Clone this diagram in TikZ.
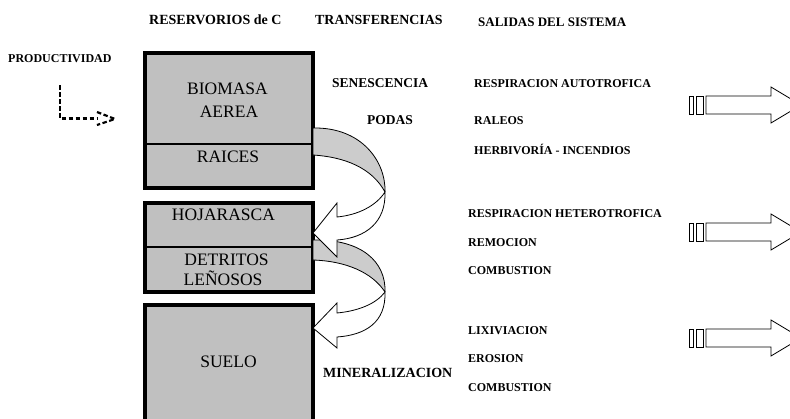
\documentclass[tikz,border=0pt]{standalone}
\usepackage{fontspec}
\setmainfont{Liberation Serif}
\definecolor{boxgray}{HTML}{C0C0C0}
\definecolor{ribgray}{HTML}{CCCCCC}
\begin{document}
\begin{tikzpicture}[x=1pt,y=-1pt,
  hdr/.style={font=\fontsize{13.5}{15}\selectfont\bfseries, inner sep=0pt, anchor=base west},
  outp/.style={font=\fontsize{12}{14}\selectfont\bfseries, inner sep=0pt, anchor=base west},
  boxlbl/.style={font=\fontsize{17.5}{19}\selectfont, inner sep=0pt, anchor=base},
  res/.style={draw=black, line width=3.8pt, fill=boxgray, inner sep=0pt},
  divider/.style={draw=black, line width=2pt},
  ribbon/.style={fill=ribgray, draw=black, line width=0.8pt, line join=round},
  curvearrow/.style={fill=white, draw=black, line width=0.8pt},
  outarrow/.style={draw=black, line width=0.8pt, fill=white},
  dashedarrow/.style={line width=2.2pt, dash pattern=on 4.5pt off 2.5pt}
]
\clip (0,0) rectangle (790,418);
\fill[white] (0,0) rectangle (790,418);

% headers
\node[hdr, font=\fontsize{14}{16}\selectfont\bfseries] (h1) at (149,24.5) {RESERVORIOS de C};
\node[hdr, font=\fontsize{13.9}{16}\selectfont\bfseries] (h2) at (315,24.5) {TRANSFERENCIAS};
\node[hdr, font=\fontsize{13}{15}\selectfont\bfseries] (h3) at (478,26.5) {SALIDAS DEL SISTEMA};
\node[outp] (prod) at (8,62) {PRODUCTIVIDAD};

% reservoir boxes
\node[res, minimum width=168pt, minimum height=135pt] (b1) at (229,120.5) {};
\node[res, minimum width=168pt, minimum height=89pt] (b2) at (229,247.5) {};
\node[res, minimum width=168pt, minimum height=120pt] (b3) at (229,365) {};
\draw[divider] (b1.west |- 0,144) -- (b1.east |- 0,144);
\draw[divider] (b2.west |- 0,247) -- (b2.east |- 0,247);

\node[boxlbl] (t1) at (227.5,94.8) {BIOMASA};
\node[boxlbl] (t2) at (229,117.8) {AEREA};
\node[boxlbl] (t3) at (228,162.8) {RAICES};
\node[boxlbl] (t4) at (223.5,220.8) {HOJARASCA};
\node[boxlbl] (t5) at (226.5,265.8) {DETRITOS};
\node[boxlbl] (t6) at (223,285.8) {LEÑOSOS};
\node[boxlbl] (t7) at (228.5,367.8) {SUELO};

% curved transfer arrows
\coordinate (q1) at (385,192);
\coordinate (q2) at (385,292);
\path[ribbon] (313,128) .. controls (362,127) and (386,162) .. (q1)
   .. controls (372,168) and (345,157) .. (313,155) -- cycle;
\path[ribbon] (313,240) .. controls (362,239) and (386,262) .. (q2)
   .. controls (372,272) and (345,261) .. (313,260) -- cycle;
\path[curvearrow] (q1) .. controls (386,222) and (366,238) .. (337,240)
   -- (337,257) -- (313,233) -- (337,203) -- (337,217)
   .. controls (358,215) and (376,206) .. (q1) -- cycle;
\path[curvearrow] (q2) .. controls (386,322) and (366,335) .. (337,337)
   -- (337,348) -- (313,328) -- (337,303) -- (337,313)
   .. controls (358,311) and (376,304) .. (q2) -- cycle;

% transfers
\node[hdr] (s1) at (332,87.5) {SENESCENCIA};
\node[hdr] (s2) at (367,124.5) {PODAS};
\node[hdr, font=\fontsize{14}{16}\selectfont\bfseries] (s3) at (323,377.5) {MINERALIZACION};

% outputs
\node[outp] (o1) at (474,87) {RESPIRACION AUTOTROFICA};
\node[outp] (o2) at (474,124) {RALEOS};
\node[outp] (o3) at (474,154) {HERBIVORÍA - INCENDIOS};
\node[outp] (o4) at (468,217) {RESPIRACION HETEROTROFICA};
\node[outp] (o5) at (468,246) {REMOCION};
\node[outp] (o6) at (468,274) {COMBUSTION};
\node[outp] (o7) at (468,334) {LIXIVIACION};
\node[outp] (o8) at (468,362) {EROSION};
\node[outp] (o9) at (468,391) {COMBUSTION};

% productivity dashed arrow
\coordinate (d0) at (60,85);
\coordinate (d1) at (60,118.5);
\coordinate (d2) at (97,118.5);
\coordinate (ha) at (97,112);
\coordinate (ht) at (115,119);
\coordinate (hb) at (97,125);
\draw[dashedarrow] (d0) -- (d1) -- (d2);
\draw[dashedarrow] (ha) -- (ht) -- (hb);

% output arrows
\foreach \c in {105,232,338}{
  \begin{scope}[shift={(0,\c)}]
    \draw[outarrow] (689,-9) rectangle (693,9);
    \draw[outarrow] (696,-9) rectangle (703,9);
    \draw[outarrow] (706,-9) -- (771,-9) -- (771,-18) -- (801,0)
       -- (771,18) -- (771,9) -- (706,9) -- cycle;
  \end{scope}
}
\end{tikzpicture}
\end{document}
